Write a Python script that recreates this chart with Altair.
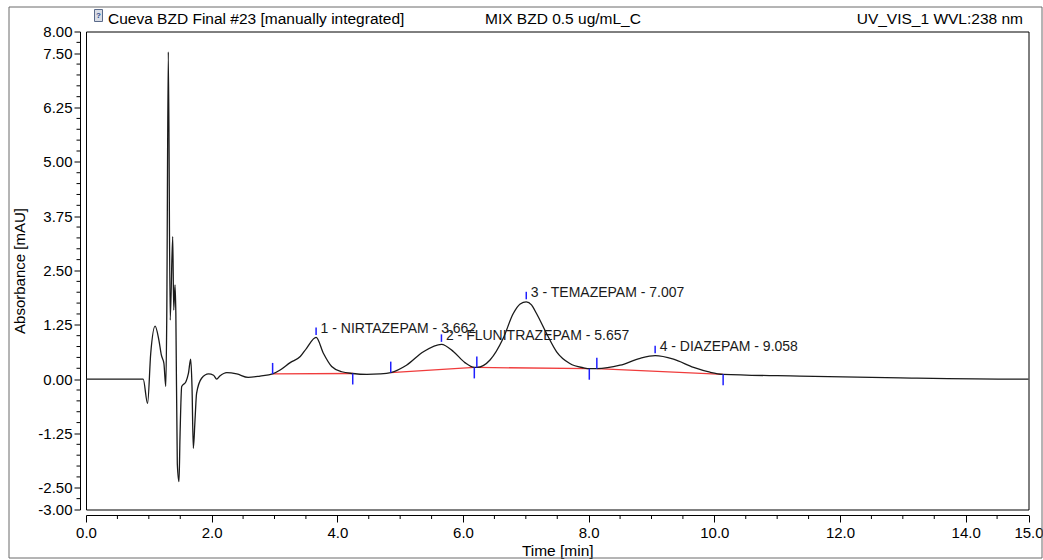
import altair as alt
import pandas as pd

# ---- chromatogram trace: time [min] / absorbance [mAU] ----
TIME = [0.0, 0.91, 0.98, 1.03, 1.10, 1.16, 1.20, 1.24, 1.27, 1.285, 1.31, 1.34,
        1.38, 1.396, 1.417, 1.43, 1.453, 1.48, 1.496, 1.523, 1.59, 1.63, 1.666,
        1.687, 1.708, 1.735, 1.76, 1.84, 1.95, 2.03, 2.08, 2.13, 2.24, 2.40,
        2.58, 2.77, 2.97, 3.09, 3.25, 3.41, 3.51, 3.662, 3.78, 3.91, 4.07,
        4.245, 4.47, 4.68, 4.85, 5.10, 5.37, 5.657, 5.85, 6.03, 6.18, 6.22,
        6.43, 6.64, 6.80, 6.91, 7.007, 7.09, 7.17, 7.33, 7.49, 7.70, 7.92,
        8.01, 8.13, 8.50, 8.82, 9.058, 9.35, 9.67, 9.93, 10.14, 11.36, 12.96,
        14.97, 15.0]
ABSORBANCE = [0.0, 0.0, -0.56, 0.59, 1.22, 0.90, 0.55, 0.36, -0.17, 1.36, 7.53,
              1.36, 3.28, 1.59, 2.17, 1.51, -1.94, -2.36, -1.33, -0.17, -0.06,
              0.13, 0.46, -0.17, -1.59, -0.94, -0.33, 0.02, 0.12, 0.09, 0.0,
              0.07, 0.15, 0.12, 0.04, 0.07, 0.12, 0.21, 0.38, 0.52, 0.71, 0.96,
              0.59, 0.29, 0.17, 0.13, 0.11, 0.12, 0.15, 0.32, 0.63, 0.80, 0.63,
              0.38, 0.27, 0.27, 0.44, 0.94, 1.51, 1.73, 1.78, 1.71, 1.51, 1.05,
              0.63, 0.36, 0.26, 0.24, 0.24, 0.32, 0.48, 0.54, 0.46, 0.27, 0.16,
              0.11, 0.07, 0.03, 0.0, 0.0]

# ---- identified peaks ----
PEAK_NO = [1, 2, 3, 4]
PEAK_NAME = ["NIRTAZEPAM", "FLUNITRAZEPAM", "TEMAZEPAM", "DIAZEPAM"]
PEAK_RT = [3.662, 5.657, 7.007, 9.058]
PEAK_HEIGHT = [0.96, 0.80, 1.78, 0.54]

# ---- integration baselines (start / end of each peak) ----
BASE_START_T = [2.97, 4.85, 6.22, 8.13]
BASE_START_A = [0.12, 0.15, 0.27, 0.24]
BASE_END_T = [4.245, 6.18, 8.01, 10.14]
BASE_END_A = [0.13, 0.27, 0.24, 0.11]

# ---- axes: labelled (major) ticks and all tick positions ----
X_LABELED = [0, 2, 4, 6, 8, 10, 12, 14, 15]
X_TICKS = [i * 0.5 for i in range(31)]
Y_LABELED = [8, 7.5, 6.25, 5, 3.75, 2.5, 1.25, 0, -1.25, -2.5, -3]
Y_TICKS = [-3 + 0.25 * i for i in range(45)]

HEADER_LEFT = "Cueva BZD Final #23 [manually integrated]"
HEADER_MID = "MIX BZD 0.5 ug/mL_C"
HEADER_RIGHT = "UV_VIS_1 WVL:238 nm"

FONT = "Liberation Sans, Arial, sans-serif"

W, H = 942.5, 478
X_OFF, Y_OFF = 5.5, 6          # axes sit slightly away from the plot frame

trace = pd.DataFrame({"t": TIME, "a": ABSORBANCE})
peaks = pd.DataFrame({
    "t": PEAK_RT,
    "a": PEAK_HEIGHT,
    "label": [f"{n} - {name} - {rt:.3f}" for n, name, rt in zip(PEAK_NO, PEAK_NAME, PEAK_RT)],
})
starts = pd.DataFrame({"t": BASE_START_T, "a": BASE_START_A})
ends = pd.DataFrame({"t": BASE_END_T, "a": BASE_END_A})
baselines = pd.DataFrame({
    "seg": [i for i in range(len(BASE_START_T)) for _ in range(2)],
    "t": [v for pair in zip(BASE_START_T, BASE_END_T) for v in pair],
    "a": [v for pair in zip(BASE_START_A, BASE_END_A) for v in pair],
})
x_minor = pd.DataFrame({"v": [v for v in X_TICKS if v not in X_LABELED]})
y_minor = pd.DataFrame({"v": [v for v in Y_TICKS if v not in Y_LABELED]})

x_scale = alt.Scale(domain=[0, 15], nice=False, zero=False)
y_scale = alt.Scale(domain=[-3, 8], nice=False, zero=False)

x_axis = alt.Axis(
    title="Time [min]", values=X_LABELED, offset=X_OFF, format=".1f",
    tickSize=7, labelOverlap=False, labelFlush=False, labelPadding=3, grid=False,
    labelFont=FONT, labelFontSize=15, titleFont=FONT, titleFontSize=15.5,
    titleFontWeight="normal", titlePadding=3, domainColor="black",
    tickColor="black", labelColor="black", titleColor="black",
)
y_axis = alt.Axis(
    title="Absorbance [mAU]", values=Y_LABELED, offset=Y_OFF,
    labelExpr="(datum.value < 0 ? '-' : '') + format(abs(datum.value), '.2f')",
    tickSize=6, labelOverlap=False, labelFlush=False, labelPadding=2, grid=False,
    labelFont=FONT, labelFontSize=15, titleFont=FONT, titleFontSize=15,
    titleFontWeight="normal", titlePadding=10, domainColor="black",
    tickColor="black", labelColor="black", titleColor="black",
)

line = alt.Chart(trace).mark_line(
    color="#1a1a1a", strokeWidth=1.3, interpolate="monotone"
).encode(
    x=alt.X("t:Q", scale=x_scale, axis=x_axis),
    y=alt.Y("a:Q", scale=y_scale, axis=y_axis),
)

# short minor ticks between the labelled ones
x_minor_ticks = alt.Chart(x_minor).mark_rule(color="black", strokeWidth=1).encode(
    x=alt.X("v:Q", scale=x_scale), y=alt.value(H + X_OFF), y2=alt.value(H + X_OFF + 4)
)
y_minor_ticks = alt.Chart(y_minor).mark_rule(color="black", strokeWidth=1).encode(
    y=alt.Y("v:Q", scale=y_scale), x=alt.value(-Y_OFF), x2=alt.value(-Y_OFF - 3.5)
)

base = alt.Chart(baselines).mark_line(color="#f03c3c", strokeWidth=1.3).encode(
    x=alt.X("t:Q", scale=x_scale), y=alt.Y("a:Q", scale=y_scale), detail="seg:N"
)

start_marks = alt.Chart(starts).mark_rule(
    color="#1f1fff", strokeWidth=1.5, yOffset=-11, y2Offset=0
).encode(x=alt.X("t:Q", scale=x_scale), y=alt.Y("a:Q", scale=y_scale), y2="a:Q")

end_marks = alt.Chart(ends).mark_rule(
    color="#1f1fff", strokeWidth=1.5, yOffset=0, y2Offset=11
).encode(x=alt.X("t:Q", scale=x_scale), y=alt.Y("a:Q", scale=y_scale), y2="a:Q")

apex_marks = alt.Chart(peaks).mark_rule(
    color="#1f1fff", strokeWidth=1.5, yOffset=-10, y2Offset=-2.5
).encode(x=alt.X("t:Q", scale=x_scale), y=alt.Y("a:Q", scale=y_scale), y2="a:Q")

peak_text = alt.Chart(peaks).mark_text(
    align="left", baseline="middle", dx=4.5, dy=-8.5,
    font=FONT, fontSize=14, color="#1a1a1a",
).encode(x=alt.X("t:Q", scale=x_scale), y=alt.Y("a:Q", scale=y_scale), text="label:N")


def header(text, x, align):
    return alt.Chart(pd.DataFrame({"s": [text]})).mark_text(
        align=align, baseline="middle", font=FONT, fontSize=15.5, color="black"
    ).encode(x=alt.value(x), y=alt.value(-13), text="s:N")


frame = alt.Chart(pd.DataFrame({"k": [0]})).mark_rect(
    fillOpacity=0, stroke="#6a6a6a", strokeWidth=1
).encode(x=alt.value(-77), x2=alt.value(956), y=alt.value(-24.5), y2=alt.value(526.5))

icon = alt.Chart(pd.DataFrame({"k": [0]})).mark_rect(
    fill="#d9dde6", stroke="#5a6a8a", strokeWidth=1
).encode(x=alt.value(8.5), x2=alt.value(16.5), y=alt.value(-22), y2=alt.value(-10))

icon_q = alt.Chart(pd.DataFrame({"s": ["?"]})).mark_text(
    align="center", baseline="middle", font=FONT, fontSize=8, fontWeight="bold",
    color="#2a4a8a",
).encode(x=alt.value(12.5), y=alt.value(-15.5), text="s:N")

chart = alt.layer(
    frame, base, line, x_minor_ticks, y_minor_ticks, start_marks, end_marks,
    apex_marks, peak_text,
    header(HEADER_LEFT, 22, "left"), header(HEADER_MID, 399, "left"),
    header(HEADER_RIGHT, 937, "right"), icon, icon_q,
).properties(
    width=W, height=H,
    autosize=alt.AutoSizeParams(type="none"),
    padding={"left": 86, "top": 31.5, "right": 14.5, "bottom": 50.5},
    background="white",
).configure_view(stroke="black", strokeWidth=1)

chart.save("out.html", embed_options={"renderer": "svg", "actions": False})
